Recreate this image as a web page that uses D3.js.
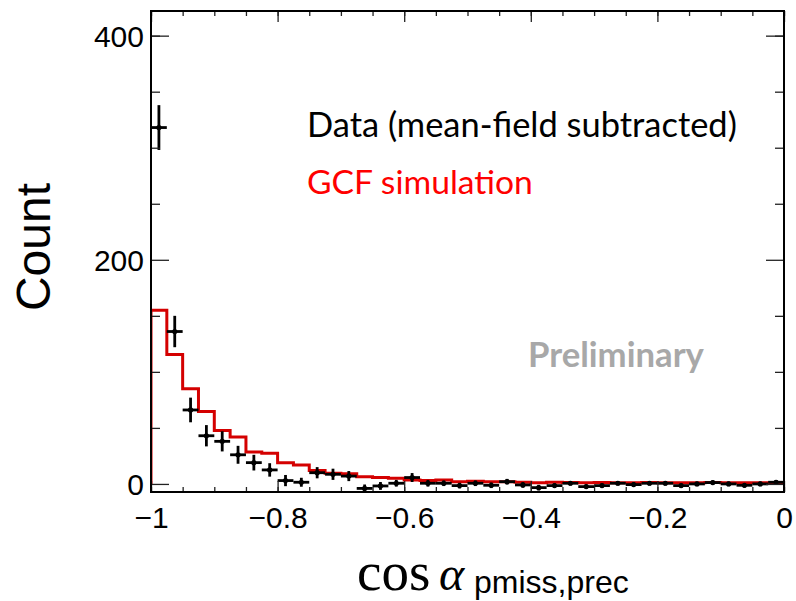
<!DOCTYPE html>
<html>
<head>
<meta charset="utf-8">
<script src="https://cdn.jsdelivr.net/npm/d3@7"></script>
<style>
  html, body { margin: 0; padding: 0; background: #fff; }
  svg { display: block; }
</style>
</head>
<body>
<svg id="chart" width="796" height="601"></svg>
<script>
// Histogram binning: 40 bins over cos(alpha) in [-1, 0]
const binEdges = d3.range(41).map(i => -1 + i * 0.025);

// Data (mean-field subtracted): counts and statistical errors per bin
const dataCounts = [318, 136, 66, 43, 38, 26, 19, 12.5, 3, 1.5,
                    10, 8.6, 7, -4, -1.8, 0.6, 5.7, 0.6, 0.6, -1.5,
                    0.6, -1.2, 2, -0.9, -3.3, -1.5, 0.6, -2.4, -1.5, 0.6,
                    -0.6, 0.6, 0.6, -1.5, 0, 1.2, 0, -1.2, 0, 1.5];
const dataErrors = [20, 14, 11, 9.5, 9, 8, 7, 6, 5, 4,
                    5, 5, 4.5, 3.5, 3.5, 3, 4, 3, 2.5, 2.5,
                    2.5, 2.5, 2.5, 2.5, 2.5, 2, 2, 2, 2, 2,
                    2, 2, 2, 2, 2, 2, 2, 2, 2, 2];

// GCF simulation histogram
const simCounts = [155, 115.4, 85, 64.7, 47.7, 41.8, 28.4, 27.4, 19, 17,
                   12, 9.5, 9, 6.5, 5.7, 5, 3.6, 3, 3.6, 2,
                   2.5, 2, 2, 1.5, 1, 1.5, 1.2, 1, 1.2, 1,
                   1, 1.2, 1, 1, 1, 1.2, 1, 1, 1, 1];

// Axis ticks and labels
const xMajorTicks = [-1, -0.8, -0.6, -0.4, -0.2, 0];
const xTickLabels = ["\u22121", "\u22120.8", "\u22120.6", "\u22120.4", "\u22120.2", "0"];
const xMinorTicks = d3.range(21).map(i => -1 + i * 0.05);
const yMajorTicks = [0, 200, 400];
const yTickLabels = ["0", "200", "400"];
const yMinorTicks = [50, 100, 150, 250, 300, 350, 400];

const svg = d3.select("#chart");
const frame = { left: 151, right: 784, top: 11, bottom: 492 };

const x = d3.scaleLinear().domain([-1, 0]).range([frame.left, frame.right]);
const y = d3.scaleLinear().domain([-7.2, 422]).range([frame.bottom, frame.top]);

svg.append("defs").append("clipPath").attr("id", "plotClip")
  .append("rect")
  .attr("x", frame.left).attr("y", frame.top)
  .attr("width", frame.right - frame.left).attr("height", frame.bottom - frame.top);

const plot = svg.append("g").attr("clip-path", "url(#plotClip)");

// Simulation: step histogram outline
const simPts = [[x(binEdges[0]), y(0)]];
simCounts.forEach((v, i) => {
  simPts.push([x(binEdges[i]), y(v)]);
  simPts.push([x(binEdges[i + 1]), y(v)]);
});
plot.append("path")
  .attr("d", d3.line()(simPts))
  .attr("fill", "none")
  .attr("stroke", "#d40000")
  .attr("stroke-width", 3)
  .attr("stroke-linejoin", "miter");

// Data: crosses (bin width horizontally, error vertically) with markers
const pts = dataCounts.map((v, i) => ({
  lo: binEdges[i], hi: binEdges[i + 1], c: (binEdges[i] + binEdges[i + 1]) / 2, v, e: dataErrors[i]
}));
const dg = plot.append("g").attr("stroke", "#000").attr("stroke-width", 2.8);
dg.selectAll("line.h").data(pts).join("line").attr("class", "h")
  .attr("x1", d => x(d.lo)).attr("x2", d => x(d.hi))
  .attr("y1", d => y(d.v)).attr("y2", d => y(d.v));
dg.selectAll("line.v").data(pts).join("line").attr("class", "v")
  .attr("x1", d => x(d.c)).attr("x2", d => x(d.c))
  .attr("y1", d => y(d.v - d.e)).attr("y2", d => y(d.v + d.e));
plot.append("g").selectAll("circle").data(pts).join("circle")
  .attr("cx", d => x(d.c)).attr("cy", d => y(d.v)).attr("r", 2.6)
  .attr("fill", "#000");

// Axes (ticks drawn inward on all four sides)
function styleAxis(g) {
  g.select(".domain").remove();
  g.selectAll(".tick line").attr("stroke", "#222").attr("stroke-width", 1.3);
}
const labelFont = "'Liberation Sans', Arial, Helvetica, sans-serif";

svg.append("g").attr("transform", `translate(0,${frame.bottom})`)
  .call(d3.axisBottom(x).tickValues(xMinorTicks).tickSize(-5).tickFormat(""))
  .call(styleAxis);
const xAxisG = svg.append("g").attr("transform", `translate(0,${frame.bottom})`)
  .call(d3.axisBottom(x).tickValues(xMajorTicks).tickSize(-11)
        .tickFormat((d, i) => xTickLabels[i]))
  .call(styleAxis);
xAxisG.selectAll(".tick text")
  .attr("y", 36).attr("dy", 0)
  .attr("font-family", labelFont).attr("font-size", 30).attr("fill", "#000");

svg.append("g").attr("transform", `translate(0,${frame.top})`)
  .call(d3.axisTop(x).tickValues(xMinorTicks).tickSize(-5).tickFormat(""))
  .call(styleAxis);
svg.append("g").attr("transform", `translate(0,${frame.top})`)
  .call(d3.axisTop(x).tickValues(xMajorTicks).tickSize(-11).tickFormat(""))
  .call(styleAxis);

svg.append("g").attr("transform", `translate(${frame.left},0)`)
  .call(d3.axisLeft(y).tickValues(yMinorTicks).tickSize(-9).tickFormat(""))
  .call(styleAxis);
const yAxisG = svg.append("g").attr("transform", `translate(${frame.left},0)`)
  .call(d3.axisLeft(y).tickValues(yMajorTicks).tickSize(-18)
        .tickFormat((d, i) => yTickLabels[i]))
  .call(styleAxis);
yAxisG.selectAll(".tick text")
  .attr("x", -7).attr("dy", 11)
  .attr("font-family", labelFont).attr("font-size", 30).attr("fill", "#000");

svg.append("g").attr("transform", `translate(${frame.right},0)`)
  .call(d3.axisRight(y).tickValues(yMinorTicks).tickSize(-9).tickFormat(""))
  .call(styleAxis);
svg.append("g").attr("transform", `translate(${frame.right},0)`)
  .call(d3.axisRight(y).tickValues(yMajorTicks).tickSize(-18).tickFormat(""))
  .call(styleAxis);

// Frame
svg.append("rect")
  .attr("x", frame.left).attr("y", frame.top)
  .attr("width", frame.right - frame.left).attr("height", frame.bottom - frame.top)
  .attr("fill", "none").attr("stroke", "#000").attr("stroke-width", 2);

// Axis titles
svg.append("text")
  .attr("transform", "translate(50,247) rotate(-90)")
  .attr("text-anchor", "middle")
  .attr("font-family", labelFont).attr("font-size", 48).attr("fill", "#000")
  .text("Count");

const xt = svg.append("text").attr("y", 590).attr("fill", "#000");
xt.append("tspan").attr("x", 357)
  .attr("font-family", "'Liberation Serif', 'Times New Roman', serif").attr("font-size", 55)
  .text("cos");
xt.append("tspan").attr("x", 439)
  .attr("font-family", "'Liberation Serif', 'Times New Roman', serif").attr("font-size", 48)
  .attr("font-style", "italic")
  .text("\u03b1");
xt.append("tspan").attr("x", 474).attr("dy", 3)
  .attr("font-family", labelFont).attr("font-size", 32)
  .text("pmiss,prec");

// Legend texts and watermark, sized to a target width
function fitText(sel, target) {
  const base = +sel.attr("font-size");
  const w = sel.node().getComputedTextLength();
  sel.attr("font-size", base * target / w);
}
const legendFont = "Lato, 'Open Sans', sans-serif";
const t1 = svg.append("text").attr("x", 307).attr("y", 137)
  .attr("font-family", legendFont).attr("font-size", 28).attr("fill", "#000")
  .text("Data (mean-field subtracted)");
fitText(t1, 430);
const t2 = svg.append("text").attr("x", 307).attr("y", 194)
  .attr("font-family", legendFont).attr("font-size", 28).attr("fill", "#ff0000")
  .text("GCF simulation");
fitText(t2, 226);
const t3 = svg.append("text").attr("x", 528).attr("y", 367)
  .attr("font-family", legendFont).attr("font-size", 26).attr("font-weight", "bold")
  .attr("fill", "#a8a8a8")
  .text("Preliminary");
fitText(t3, 176);
</script>
</body>
</html>
